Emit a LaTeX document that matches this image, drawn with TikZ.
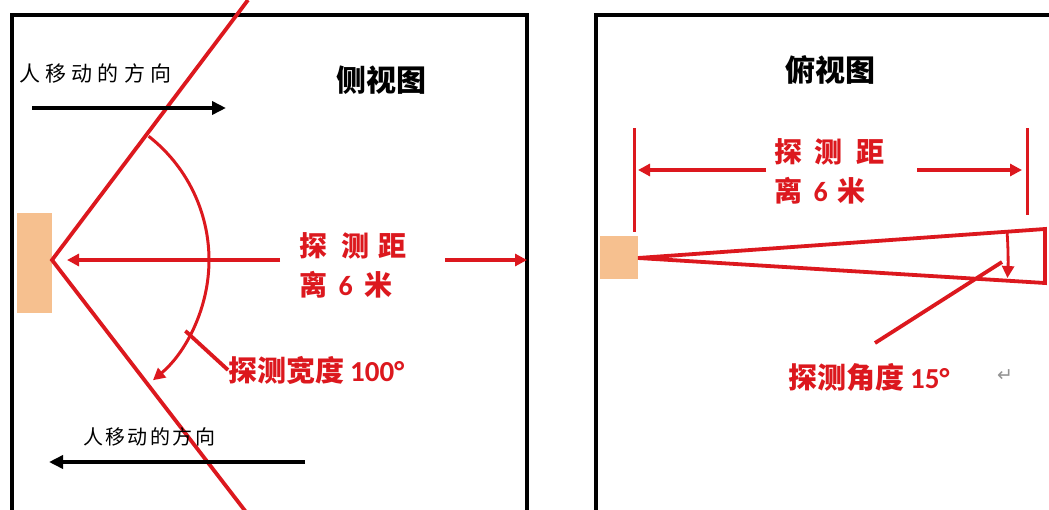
\documentclass[tikz,border=0pt]{standalone}
\usepackage{fontspec}
\usetikzlibrary{arrows.meta,calc}
\setmainfont{Liberation Sans}
\newfontfamily\cjk{Noto Sans CJK SC}
\newfontfamily\num{Carlito}
\newfontfamily\sym{DejaVu Sans}
\definecolor{rd}{RGB}{220,24,30}
\definecolor{skin}{RGB}{246,192,143}
\begin{document}
\begin{tikzpicture}[x=1pt,y=-1pt,
  box/.style={line width=4pt,black},
  ray/.style={draw=rd,line width=3.8pt},
  redarrow/.style={draw=rd,line width=4pt,-{Triangle[length=12pt,width=12pt]}},
  arcarrow/.style={draw=rd,line width=3pt,-{Triangle[length=12pt,width=12pt]}},
  blackarrow/.style={draw=black,line width=4pt,-{Triangle[length=14pt,width=13pt]}},
  plain/.style={font=\cjk\fontsize{20}{24}\selectfont,inner sep=0pt},
  title/.style={font=\cjk\bfseries\fontsize{30}{34}\selectfont,inner sep=0pt},
  redlbl/.style={text=rd,font=\cjk\bfseries\fontsize{28}{40}\selectfont,inner sep=0pt},
  sensor/.style={fill=skin,inner sep=0pt},
]
\useasboundingbox (0,0) rectangle (1049,509);
\fill[white] (0,0) rectangle (1049,509);

% ---------------- left panel: side view ----------------
\draw[box] (12,512) -- (12,15) -- (527,15) -- (527,512);
\node[sensor,minimum width=35pt,minimum height=100pt] (sensL) at (34.5,263) {};
\coordinate (apex) at (52,260);
\coordinate (rayTop) at (248,0);
\coordinate (rayBot) at (246,512);
\draw[ray] (rayTop) -- (apex) -- (rayBot);
\draw[arcarrow] (apex) ++(-52:157) arc[start angle=-52,end angle=50,radius=157];

\node[title] (titleL) at (381,80) {侧视图};

\node[plain,anchor=west,font=\cjk\fontsize{21}{24}\selectfont\addfontfeature{LetterSpace=25}] (moveA) at (19,73) {人移动的方向};
\coordinate (mA1) at (32,108);
\coordinate (mA2) at (226,108);
\draw[blackarrow] (mA1) -- (mA2);

\node[plain,anchor=west,font=\cjk\fontsize{20}{24}\selectfont\addfontfeature{LetterSpace=12}] (moveB) at (83,437) {人移动的方向};
\coordinate (mB1) at (305,462);
\coordinate (mB2) at (49,462);
\draw[blackarrow] (mB1) -- (mB2);

\node[redlbl,anchor=west] (distL1) at (299,246) {探 \hspace{8pt}测\hspace{9pt}距};
\node[redlbl,anchor=west] (distL2) at (299,285) {离 \hspace{5pt}{\num\bfseries 6} \hspace{5pt}米};
\coordinate (dL1) at (280,260);
\coordinate (dL2) at (67,260);
\coordinate (dL3) at (445,260);
\coordinate (dL4) at (527,260);
\draw[redarrow] (dL1) -- (dL2);
\draw[redarrow] (dL3) -- (dL4);

\node[redlbl,anchor=west,font=\cjk\bfseries\fontsize{29}{40}\selectfont] (width) at (228,370) {探测宽度\hspace{6pt}{\num\bfseries 100°}};
\coordinate (wp) at ($(apex)+(28:151)$);
\draw[ray] (wp) -- (width.west);

% ---------------- right panel: top view ----------------
\draw[box] (596,512) -- (596,15) -- (1055,15);
\node[title] (titleR) at (830,70) {俯视图};

\node[sensor,minimum width=38pt,minimum height=43pt] (sensR) at (619,257.5) {};
\coordinate (apex2) at (638,258);
\coordinate (cT) at (1045,229);
\coordinate (cB) at (1045,283);
\draw[ray,line join=miter] (apex2) -- (cT) -- (cB) -- cycle;
\draw[arcarrow,line width=2.8pt] (apex2) ++(-3.9:370) arc[start angle=-3.9,end angle=3.1,radius=370];

\coordinate (tk1a) at (634,128);
\coordinate (tk1b) at (634,232);
\coordinate (tk2a) at (1027,128);
\coordinate (tk2b) at (1027,215);
\draw[rd,line width=3pt] (tk1a) -- (tk1b);
\draw[rd,line width=3pt] (tk2a) -- (tk2b);

\node[redlbl,anchor=west] (distR1) at (774,152) {探 \hspace{6pt}测\hspace{14pt}距};
\node[redlbl,anchor=west] (distR2) at (774,191) {离 \hspace{5pt}{\num\bfseries 6} \hspace{3pt}米};
\coordinate (dR1) at (766,170);
\coordinate (dR2) at (638,170);
\coordinate (dR3) at (917,170);
\coordinate (dR4) at (1022,170);
\draw[redarrow] (dR1) -- (dR2);
\draw[redarrow] (dR3) -- (dR4);

\coordinate (ap1) at (1002,262);
\coordinate (ap2) at (875,343);
\draw[ray] (ap1) -- (ap2);
\node[redlbl,anchor=west,font=\cjk\bfseries\fontsize{29}{40}\selectfont] (angle) at (788,377) {探测角度\hspace{6pt}{\num\bfseries 15°}};
\node[text=gray!85,font=\sym\fontsize{19}{22}\selectfont,inner sep=0pt] (para) at (1005,376) {↵};
\end{tikzpicture}
\end{document}
